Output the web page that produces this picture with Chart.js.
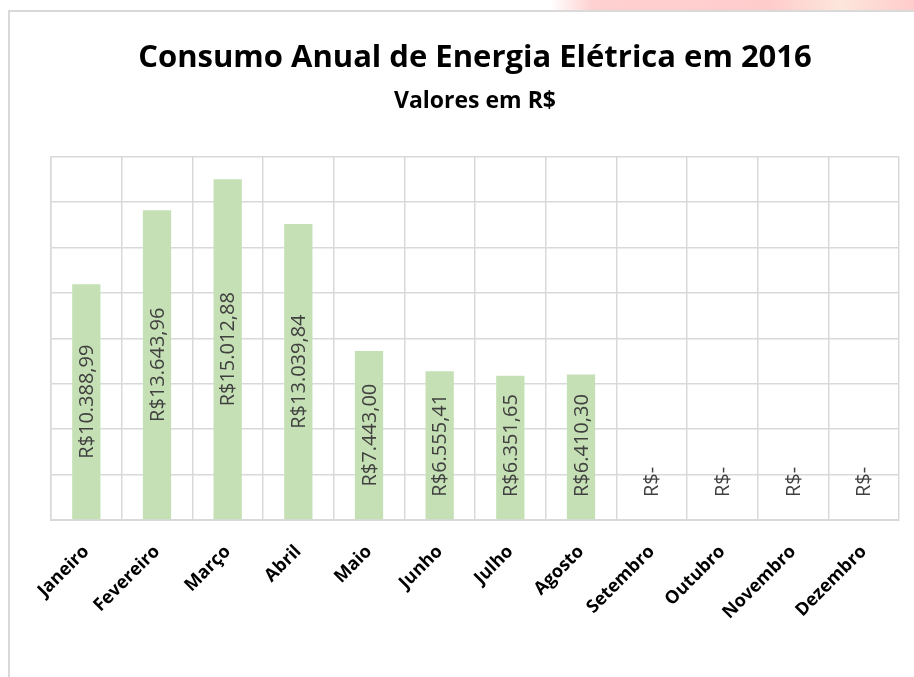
<!DOCTYPE html>
<html>
<head>
<meta charset="utf-8">
<script src="https://cdn.jsdelivr.net/npm/chart.js@4.4.1/dist/chart.umd.min.js"></script>
<style>
    html, body { margin: 0; padding: 0; background: #fff; }
    body { width: 914px; height: 677px; position: relative; overflow: hidden; }
    .marca { position: absolute; left: 550px; top: 0; width: 364px; height: 10px;
             background: linear-gradient(90deg, rgba(255,200,200,0) 0%, #ffd0d0 12%, #ffcccc 60%, #fde6dc 80%, #ffcccc 100%); }
    .quadro { position: absolute; left: 8px; top: 10px; width: 906px; height: 667px;
              border-left: 2px solid #d9d9d9; border-top: 2px solid #d9d9d9; box-sizing: border-box; }
    #statsChart { position: absolute; left: 10px; top: 12px; }
</style>
</head>
<body>
<div class="marca"></div>
<div class="quadro"></div>
<canvas id="statsChart" width="904" height="665"></canvas>
<script>
const meses = ['Janeiro', 'Fevereiro', 'Março', 'Abril', 'Maio', 'Junho',
               'Julho', 'Agosto', 'Setembro', 'Outubro', 'Novembro', 'Dezembro'];
const valores = [10388.99, 13643.96, 15012.88, 13039.84, 7443.00, 6555.41,
                 6351.65, 6410.30, 0, 0, 0, 0];
const eixoMax = 16000;
const eixoPasso = 2000;

const gridCor = '#d9d9d9';

function formataReal(v) {
    if (!v) return 'R$-';
    return 'R$' + v.toLocaleString('pt-BR', { minimumFractionDigits: 2, maximumFractionDigits: 2 });
}

// rotulos de dados verticais, centralizados na barra
const rotulos = {
    id: 'rotulos',
    afterDatasetsDraw(chart) {
        const ctx = chart.ctx;
        const area = chart.chartArea;
        const meta = chart.getDatasetMeta(0);
        ctx.save();
        ctx.font = '20px "Open Sans"';
        ctx.fillStyle = '#404040';
        ctx.textAlign = 'center';
        ctx.textBaseline = 'middle';
        meta.data.forEach((bar, i) => {
            const txt = formataReal(valores[i]);
            const w = ctx.measureText(txt).width;
            let cy = (bar.y + bar.base) / 2;
            const limite = area.bottom - 23;
            if (cy + w / 2 > limite) cy = limite - w / 2;
            ctx.save();
            ctx.translate(bar.x, cy);
            ctx.rotate(-Math.PI / 2);
            ctx.fillText(txt, 0, 1);
            ctx.restore();
        });
        ctx.restore();
    }
};

const ctx = document.getElementById('statsChart').getContext('2d');
new Chart(ctx, {
    type: 'bar',
    data: {
        labels: meses,
        datasets: [{
            label: 'Consumo',
            data: valores,
            backgroundColor: '#c5e0b4',
            borderWidth: 0,
            barPercentage: 0.4,
            categoryPercentage: 1
        }]
    },
    options: {
        responsive: false,
        animation: false,
        layout: { padding: { top: 8, left: 41, right: 15, bottom: 0 } },
        scales: {
            x: {
                grid: { color: gridCor, lineWidth: 1.5, drawTicks: false, offset: true },
                border: { color: gridCor, width: 2 },
                ticks: {
                    color: '#000',
                    font: { family: '"Open Sans"', size: 18, weight: 'bold' },
                    maxRotation: 45,
                    minRotation: 45,
                    padding: 21
                },
                afterFit(s) { s.height = 157; }
            },
            y: {
                min: 0,
                max: eixoMax,
                ticks: { stepSize: eixoPasso, display: false },
                grid: { color: gridCor, lineWidth: 1.5, drawTicks: false },
                border: { color: gridCor, width: 1.5 },
                afterFit(s) { s.width = 0; }
            }
        },
        plugins: {
            legend: { display: false },
            tooltip: { enabled: false },
            title: {
                display: true,
                text: 'Consumo Anual de Energia Elétrica em 2016',
                color: '#000',
                font: { family: '"Open Sans"', size: 31, weight: 'bold' },
                padding: { top: 20, bottom: 0 }
            },
            subtitle: {
                display: true,
                text: 'Valores em R$',
                color: '#000',
                font: { family: '"Open Sans"', size: 23, weight: 'bold' },
                padding: { top: 10, bottom: 42 }
            }
        }
    },
    plugins: [rotulos]
});
</script>
</body>
</html>
